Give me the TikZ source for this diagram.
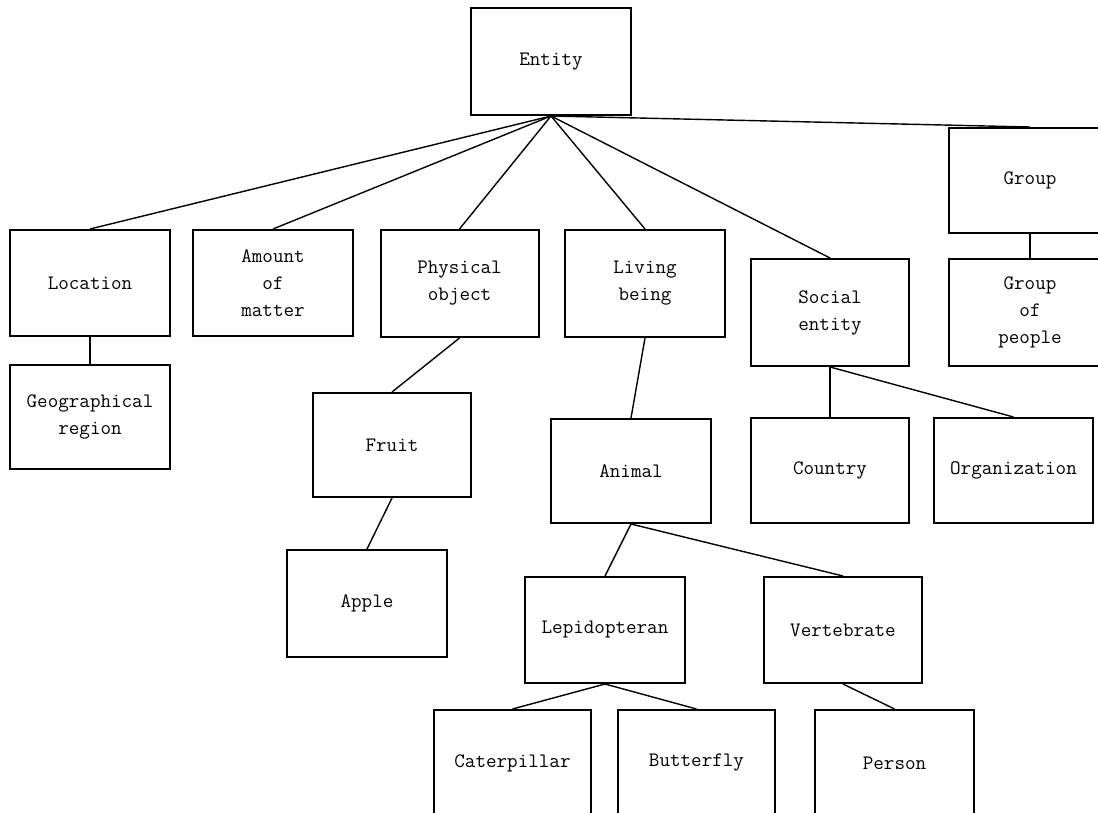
\documentclass[tikz,border=0pt]{standalone}
\usepackage{fontspec}
\begin{document}
\begin{tikzpicture}[x=1pt,y=-1pt,
  box/.style={draw=black,line width=2pt,rectangle,minimum width=159pt,minimum height=106pt,
    inner sep=0pt,align=center,font=\ttfamily\fontsize{20.5}{27}\selectfont},
  link/.style={draw=black,line width=1.4pt}]
\useasboundingbox (0,0) rectangle (1098,813);
\clip (0,0) rectangle (1098,813);
\fill[white] (0,0) rectangle (1098,813);
\node[box,minimum width=160pt,minimum height=107pt] (entity) at (551,61.5) {Entity};
\node[box,minimum width=162pt,minimum height=105pt] (group) at (1030,180.5) {Group};
\node[box,minimum width=160pt] (location) at (90,283) {Location};
\node[box,minimum width=160pt] (amount) at (273,283) {Amount\\of\\matter};
\node[box,minimum width=158pt,minimum height=107pt] (physical) at (459.5,283.5) {Physical\\object};
\node[box,minimum width=160pt,minimum height=107pt] (living) at (645,283.5) {Living\\being};
\node[box,minimum width=158pt,minimum height=107pt] (social) at (830,312.5) {Social\\entity};
\node[box,minimum width=162pt,minimum height=107pt] (groupp) at (1030,312.5) {Group\\of\\people};
\node[box,minimum width=160pt,minimum height=104pt] (geo) at (90,417) {Geographical\\region};
\node[box,minimum width=158pt,minimum height=104pt] (fruit) at (392,445) {Fruit};
\node[box,minimum width=160pt,minimum height=104pt] (animal) at (631,471) {Animal};
\node[box,minimum width=158pt,minimum height=105pt] (country) at (830,470.5) {Country};
\node[box,minimum width=159pt,minimum height=105pt] (org) at (1013.5,470.5) {Organization};
\node[box,minimum width=160pt,minimum height=107pt] (apple) at (367,603.5) {Apple};
\node[box,minimum width=160pt] (lepi) at (605,630) {Lepidopteran};
\node[box,minimum width=158pt] (vert) at (843,630) {Vertebrate};
\node[box,minimum width=157pt] (cater) at (512.5,763) {Caterpillar};
\node[box,minimum width=157pt] (butter) at (696.5,763) {Butterfly};
\node[box,minimum width=159pt] (person) at (894.5,763) {Person};
\draw[link] (entity.south) -- (location.north);
\draw[link] (entity.south) -- (amount.north);
\draw[link] (entity.south) -- (physical.north);
\draw[link] (entity.south) -- (living.north);
\draw[link] (entity.south) -- (social.north);
\draw[link] (entity.south) -- (group.north);
\draw[link] (group.south) -- (groupp.north);
\draw[link] (location.south) -- (geo.north);
\draw[link] (physical.south) -- (fruit.north);
\draw[link] (fruit.south) -- (apple.north);
\draw[link] (living.south) -- (animal.north);
\draw[link] (animal.south) -- (lepi.north);
\draw[link] (animal.south) -- (vert.north);
\draw[link] (lepi.south) -- (cater.north);
\draw[link] (lepi.south) -- (butter.north);
\draw[link] (vert.south) -- (person.north);
\draw[link] (social.south) -- (country.north);
\draw[link] (social.south) -- (org.north);
\end{tikzpicture}
\end{document}
